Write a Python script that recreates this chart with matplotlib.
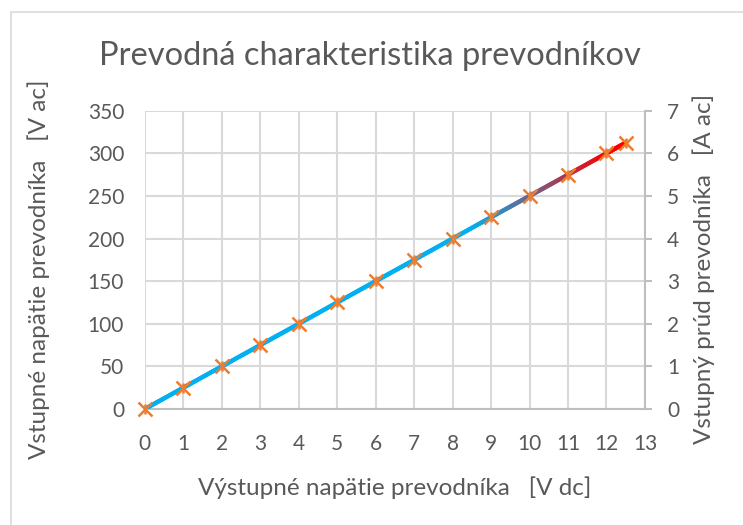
import matplotlib.pyplot as plt
import numpy as np
from matplotlib.collections import LineCollection
from matplotlib.colors import LinearSegmentedColormap
from matplotlib.patches import Rectangle

# Udaje z grafu
vystup_v = [0, 1, 2, 3, 4, 5, 6, 7, 8, 9, 10, 11, 12, 12.5]
vstup_napatie = [0, 25, 50, 75, 100, 125, 150, 175, 200, 225, 250, 275, 300, 312.5]
vstup_prud = [0, 0.5, 1, 1.5, 2, 2.5, 3, 3.5, 4, 4.5, 5, 5.5, 6, 6.25]

titulok = "Prevodná charakteristika prevodníkov"
popis_x = "Výstupné napätie prevodníka   [V dc]"
popis_y1 = "Vstupné napätie prevodníka   [V ac]"
popis_y2 = "Vstupný prúd prevodníka   [A ac]"

plt.rcParams['font.family'] = ['Lato', 'DejaVu Sans']
sivy = "#595959"
mriezka = "#D9D9D9"

fig = plt.figure(figsize=(7.43, 5.25), dpi=100)
fig.patches.append(Rectangle((11 / 743, -0.01), 1, 1 - 12 / 525 + 0.01, transform=fig.transFigure,
                             fill=False, edgecolor="#D9D9D9", linewidth=1.2))
ax = fig.add_axes([0.195, 0.221, 0.673, 0.568])
ax2 = ax.twinx()

# Ciara s prechodom farieb (modra -> cervena)
x = np.array(vystup_v, dtype=float)
y = np.array(vstup_napatie, dtype=float)
body_x, body_y = [], []
for i in range(len(x) - 1):
    t = np.linspace(0, 1, 20, endpoint=False)
    body_x.extend(x[i] + (x[i + 1] - x[i]) * t)
    body_y.extend(y[i] + (y[i + 1] - y[i]) * t)
body_x.append(x[-1])
body_y.append(y[-1])
body = np.column_stack([body_x, body_y])
segmenty = np.stack([body[:-1], body[1:]], axis=1)
stred = (body[:-1, 0] + body[1:, 0]) / 2
cmap = LinearSegmentedColormap.from_list("prechod", ["#00B0F0", "#7A5A80", "#FF0000"])
hodnoty = np.clip((stred - 8.5) / (12.0 - 8.5), 0, 1)
lc = LineCollection(segmenty, colors=cmap(hodnoty), linewidths=3.2, capstyle='round', zorder=3)
ax.add_collection(lc)

# Znacky (hviezdicky)
ax2.plot(vystup_v, vstup_prud, linestyle='none', marker='x', markersize=10.5, markeredgewidth=1.8,
         color="#ED7D31", zorder=4, clip_on=False)
ax2.plot(vystup_v, vstup_prud, linestyle='none', marker='|', markersize=7.5, markeredgewidth=1.8,
         color="#ED7D31", zorder=4, clip_on=False)

ax.set_xlim(0, 13)
ax.set_ylim(0, 350)
ax2.set_ylim(0, 7)
ax.set_xticks(range(0, 14))
ax.set_yticks(range(0, 351, 50))
ax2.set_yticks(range(0, 8))
ax.grid(True, color=mriezka, linewidth=1.5)
ax.set_axisbelow(True)
for a in (ax, ax2):
    for s in a.spines.values():
        s.set_visible(False)
    a.tick_params(length=0, labelsize=15, colors=sivy)
ax.tick_params(axis='x', pad=18)
ax.tick_params(axis='y', pad=15)
ax.spines['bottom'].set_visible(True)
ax.spines['bottom'].set_color("#BFBFBF")
ax.spines['bottom'].set_linewidth(1.5)
ax2.spines['right'].set_visible(True)
ax2.spines['right'].set_color("#BFBFBF")
ax2.spines['right'].set_linewidth(1.5)
ax2.tick_params(axis='y', length=5, width=1.5, color="#BFBFBF", labelcolor=sivy, pad=11)

ax.set_xlabel(popis_x, fontsize=17.5, color=sivy)
ax.xaxis.set_label_coords(0.5, -0.225)
ax.set_ylabel(popis_y1, fontsize=17.5, color=sivy)
ax.yaxis.set_label_coords(-0.19, 0.47)
ax2.set_ylabel(popis_y2, fontsize=17.5, color=sivy)
ax2.yaxis.set_label_coords(1.095, 0.47)
fig.text(0.498, 0.893, titulok, fontsize=23.5, color=sivy, ha='center', va='center')

fig.savefig("out.png", dpi=100)
